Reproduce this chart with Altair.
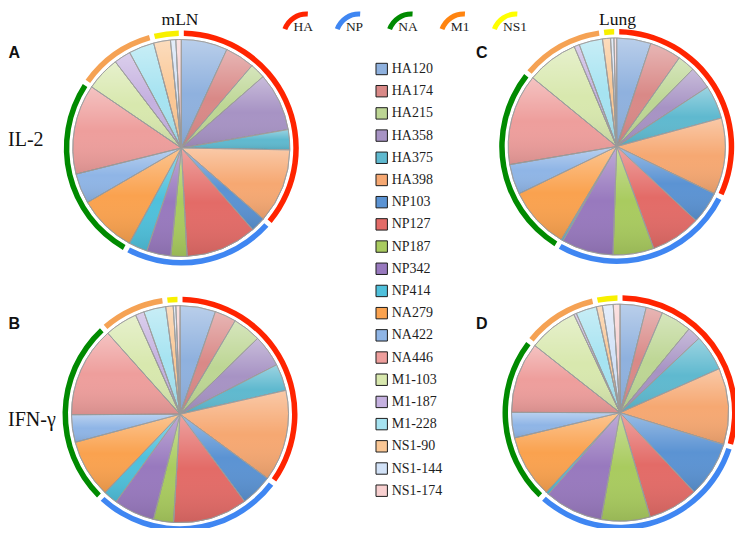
import altair as alt
import pandas as pd

# ---------------- data ----------------
epitopes = ["HA120", "HA174", "HA215", "HA358", "HA375", "HA398",
            "NP103", "NP127", "NP187", "NP342", "NP414",
            "NA279", "NA422", "NA446",
            "M1-103", "M1-187", "M1-228",
            "NS1-90", "NS1-144", "NS1-174"]
epitope_group = ["HA"] * 6 + ["NP"] * 5 + ["NA"] * 3 + ["M1"] * 3 + ["NS1"] * 3
group_names = ["HA", "NP", "NA", "M1", "NS1"]

# share of response (%) per epitope
mln_il2 = [6.9, 4.4, 2.3, 8.7, 3.0, 11.1, 2.2, 10.6, 2.4, 3.6, 2.8,
           8.7, 4.5, 13.4, 5.1, 2.5, 3.8, 2.5, 0.8, 0.8]
mln_ifng = [5.3, 3.2, 4.2, 4.8, 4.0, 13.6, 4.8, 11.1, 3.0, 6.1, 2.1,
            8.7, 4.1, 13.5, 4.9, 1.3, 3.3, 1.1, 0.4, 0.6]
lung_il2 = [5.1, 4.7, 2.6, 3.4, 5.0, 11.4, 4.8, 7.5, 6.1, 7.7, 0.3,
            9.3, 4.5, 13.6, 7.7, 0.8, 3.5, 1.2, 0.5, 0.4]
lung_ifng = [3.9, 2.5, 4.6, 2.0, 5.4, 11.4, 8.3, 7.5, 7.3, 8.7, 0.4,
             9.4, 3.8, 10.6, 7.4, 0.4, 3.1, 0.9, 1.6, 1.0]

panel_letters = ["A", "B", "C", "D"]
tissue_titles = ["mLN", "Lung"]
cytokine_labels = ["IL-2", "IFN-\u03b3"]

# ---------------- styles ----------------
epitope_colors = ["#8FB1DE", "#D98987", "#BDD694", "#A793C4", "#5FB9CF", "#F6A872",
                  "#5B93D3", "#E36B67", "#A9CB5F", "#9879BE", "#4FC0DB",
                  "#FAA24F", "#8FB5E6", "#EE9E9C",
                  "#D8E8AE", "#C5B1E0", "#A6E3F1",
                  "#FAC795", "#D2E2F7", "#F8D0D0"]
group_arc_colors = ["#FF2400", "#3F86F2", "#008A00", "#F5A254", "#F8F000"]
legend_icon_colors = ["#FF2400", "#3F86F2", "#008A00", "#FF8410", "#FFFF00"]

rows = []
for pie, vals in zip(panel_letters, [mln_il2, mln_ifng, lung_il2, lung_ifng]):
    for i, (e, g, v) in enumerate(zip(epitopes, epitope_group, vals)):
        rows.append(dict(pie=pie, epitope=e, group=g, idx=i,
                         gidx=group_names.index(g), value=v))
df = pd.DataFrame(rows)

color_scale = alt.Scale(domain=epitopes, range=epitope_colors)
gradient = alt.Gradient(
    gradient="linear",
    stops=[alt.GradientStop(color="rgba(255,255,255,0.38)", offset=0),
           alt.GradientStop(color="rgba(255,255,255,0.0)", offset=0.5),
           alt.GradientStop(color="rgba(0,0,0,0.10)", offset=1)],
    x1=0, x2=0, y1=0, y2=1)

centers = {"A": (173.3, 140.0), "B": (172.0, 406.2),
           "C": (608.7, 138.5), "D": (612.0, 404.7)}
R = 108.5

layers = []
for key in panel_letters:
    cx, cy = centers[key]
    src = alt.Chart(df).transform_filter(alt.datum.pie == key)
    base = src.mark_arc(outerRadius=R, stroke="#9a9a9a", strokeWidth=0.8).encode(
        x=alt.value(cx), y=alt.value(cy),
        theta=alt.Theta("value:Q", stack=True),
        order=alt.Order("idx:Q", sort="ascending"),
        color=alt.Color("epitope:N", scale=color_scale, legend=None),
    )
    shade = src.mark_arc(outerRadius=R, fill=gradient, stroke="#9a9a9a",
                         strokeWidth=0.8).encode(
        x=alt.value(cx), y=alt.value(cy),
        theta=alt.Theta("value:Q", stack=True),
        order=alt.Order("idx:Q", sort="ascending"),
    )
    ring = src.transform_aggregate(
        total="sum(value)", groupby=["group", "gidx"]
    ).mark_arc(innerRadius=112, outerRadius=117.5, padAngle=0.031).encode(
        x=alt.value(cx), y=alt.value(cy),
        theta=alt.Theta("total:Q", stack=True),
        order=alt.Order("gidx:Q", sort="ascending"),
        fill=alt.Fill("group:N", scale=alt.Scale(domain=group_names, range=group_arc_colors),
                      legend=None),
    )
    layers += [base, shade, ring]

# ---------------- epitope legend ----------------
leg_df = pd.DataFrame({"epitope": epitopes})
ly = alt.Y("epitope:N", scale=alt.Scale(domain=epitopes, range=[61, 482.7], padding=0),
           axis=None)
leg_sq = alt.Chart(leg_df).mark_square(size=130, filled=True, opacity=1,
                                        stroke="#1e1e1e", strokeWidth=1).encode(
    x=alt.value(373.7), y=ly,
    color=alt.Color("epitope:N", scale=color_scale, legend=None),
)
leg_tx = alt.Chart(leg_df).mark_text(align="left", baseline="middle",
                                      font="Liberation Serif", fontSize=14,
                                      color="#1e1e1e").encode(
    x=alt.value(383.7), y=ly, text="epitope:N",
)
layers += [leg_sq, leg_tx]

# ---------------- group legend ----------------
grp_df = pd.DataFrame({"group": group_names})
gx = alt.X("group:N", scale=alt.Scale(domain=group_names, range=[298.5, 508], padding=0),
           axis=None)
grp_arc = alt.Chart(grp_df).mark_arc(innerRadius=20.5, outerRadius=25.5,
                                      theta=5.06, theta2=6.34).encode(
    x=gx, y=alt.value(29),
    fill=alt.Fill("group:N", scale=alt.Scale(domain=group_names, range=legend_icon_colors),
                  legend=None),
)
grp_tx = alt.Chart(grp_df).mark_text(align="left", baseline="alphabetic", dx=-13,
                                      font="Liberation Serif", fontSize=13.5,
                                      color="#1e1e1e").encode(
    x=gx, y=alt.value(22.7), text="group:N",
)
layers += [grp_arc, grp_tx]

# ---------------- titles and labels ----------------
def label(txt, x, y, size, font="Liberation Serif", weight="normal", align="left"):
    return alt.Chart(pd.DataFrame({"t": [txt]})).mark_text(
        align=align, baseline="alphabetic", font=font, fontSize=size,
        fontWeight=weight, color="#111111").encode(
        x=alt.value(x), y=alt.value(y), text="t:N")

layers += [
    label(tissue_titles[0], 172, 16.5, 17.5, align="center"),
    label(tissue_titles[1], 609.5, 16.5, 17.5, align="center"),
    label(cytokine_labels[0], 0, 137.7, 20),
    label(cytokine_labels[1], 0, 418, 20),
    label(panel_letters[0], 0.5, 49.7, 16, font="Liberation Sans", weight="bold"),
    label(panel_letters[1], 0.5, 321, 16, font="Liberation Sans", weight="bold"),
    label(panel_letters[2], 468, 50, 16, font="Liberation Sans", weight="bold"),
    label(panel_letters[3], 468, 321, 16, font="Liberation Sans", weight="bold"),
]

chart = alt.layer(*layers).resolve_scale(
    theta="independent", fill="independent"
).properties(
    width=727, height=520, padding=0,
    autosize=alt.AutoSizeParams(type="none"),
    background="white",
).configure_view(strokeWidth=0)

chart.save("out.html", embed_options={"renderer": "svg", "actions": False})
